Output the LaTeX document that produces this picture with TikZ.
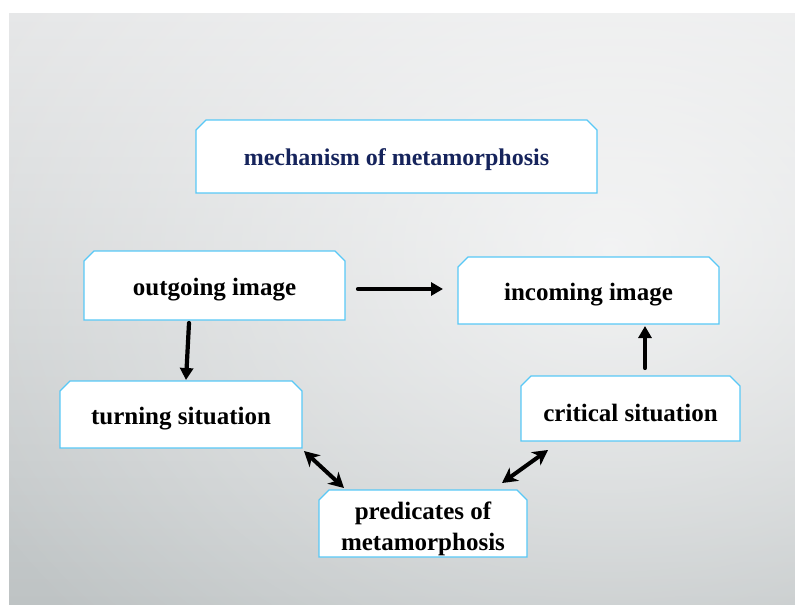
\documentclass[tikz,border=0pt]{standalone}
\usepackage{fontspec}
\setmainfont{Liberation Serif}
\usetikzlibrary{arrows.meta,calc,fadings}
\definecolor{bgTop}{RGB}{229,230,231}
\definecolor{bgBot}{RGB}{190,195,196}
\definecolor{boxline}{RGB}{88,200,246}
\definecolor{navy}{RGB}{22,36,92}
\pgfdeclarelayer{bg}
\pgfdeclarelayer{boxes}
\pgfsetlayers{bg,boxes,main}
\tikzfading[name=glow, inner color=transparent!30, outer color=transparent!100]
\tikzset{
  box/.style={inner sep=0pt, outer sep=0pt},
  lbl/.style={inner sep=0pt, outer sep=0pt, align=center, yshift=-4pt, font=\bfseries\fontsize{25}{31}\selectfont},
  border/.style={draw=boxline, line width=1.3pt, fill=white},
  arr/.style={line width=4.2pt, line cap=round, -{Triangle[length=12pt,width=13pt]}},
  darr/.style={line width=4pt, {Stealth[length=15pt,width=16pt,inset=4.5pt]}-{Stealth[length=15pt,width=16pt,inset=4.5pt]}}
}
\begin{document}
\begin{tikzpicture}[x=1pt,y=-1pt]
\useasboundingbox (0,0) rectangle (795,605);
\begin{pgfonlayer}{bg}
\fill[top color=bgTop, bottom color=bgBot] (9,13) rectangle (795,604);
\begin{scope}
\clip (9,13) rectangle (795,604);
\fill[white, path fading=glow] (610,250) ellipse (720 and 560);
\end{scope}
\end{pgfonlayer}

\node[box, minimum width=401pt, minimum height=73pt,
  label={[lbl, yshift=1pt, text=navy, font=\bfseries\fontsize{24}{30}\selectfont]center:mechanism of metamorphosis}] (title) at (396.5,156.5) {};
\node[box, minimum width=261pt, minimum height=69pt, label={[lbl]center:outgoing image}] (out) at (214.5,285.5) {};
\node[box, minimum width=261pt, minimum height=67pt, label={[lbl]center:incoming image}] (inc) at (588.5,290.5) {};
\node[box, minimum width=242pt, minimum height=67pt, label={[lbl]center:turning situation}] (turn) at (181,414.5) {};
\node[box, minimum width=219pt, minimum height=65pt, label={[lbl]center:critical situation}] (crit) at (630.5,408.5) {};
\node[box, minimum width=208pt, minimum height=67pt, label={[lbl, yshift=-1pt]center:predicates of\\metamorphosis}] (pred) at (423,523.5) {};

\begin{pgfonlayer}{boxes}
\foreach \n in {title,out,inc,turn,crit,pred}
  \draw[border] (\n.south west) -- ([yshift=-10pt]\n.north west) -- ([xshift=10pt]\n.north west)
     -- ([xshift=-10pt]\n.north east) -- ([yshift=-10pt]\n.north east) -- (\n.south east) -- cycle;
\end{pgfonlayer}

\draw[arr] ($(out.east)+(13,3.5)$) -- ($(inc.west)+(-15,-1.5)$);
\draw[arr] ($(out.south)+(-25.5,3)$) -- ($(turn.north)+(5,-1)$);
\draw[arr] ($(crit.north)+(14.5,-8)$) -- ($(inc.south)+(56.5,2)$);
\draw[darr] ($(turn.south east)+(2,3)$) -- ($(pred.north west)+(25,-2)$);
\draw[darr] ($(crit.south west)+(27,9)$) -- ($(pred.north east)+(-25,-7)$);
\end{tikzpicture}
\end{document}
